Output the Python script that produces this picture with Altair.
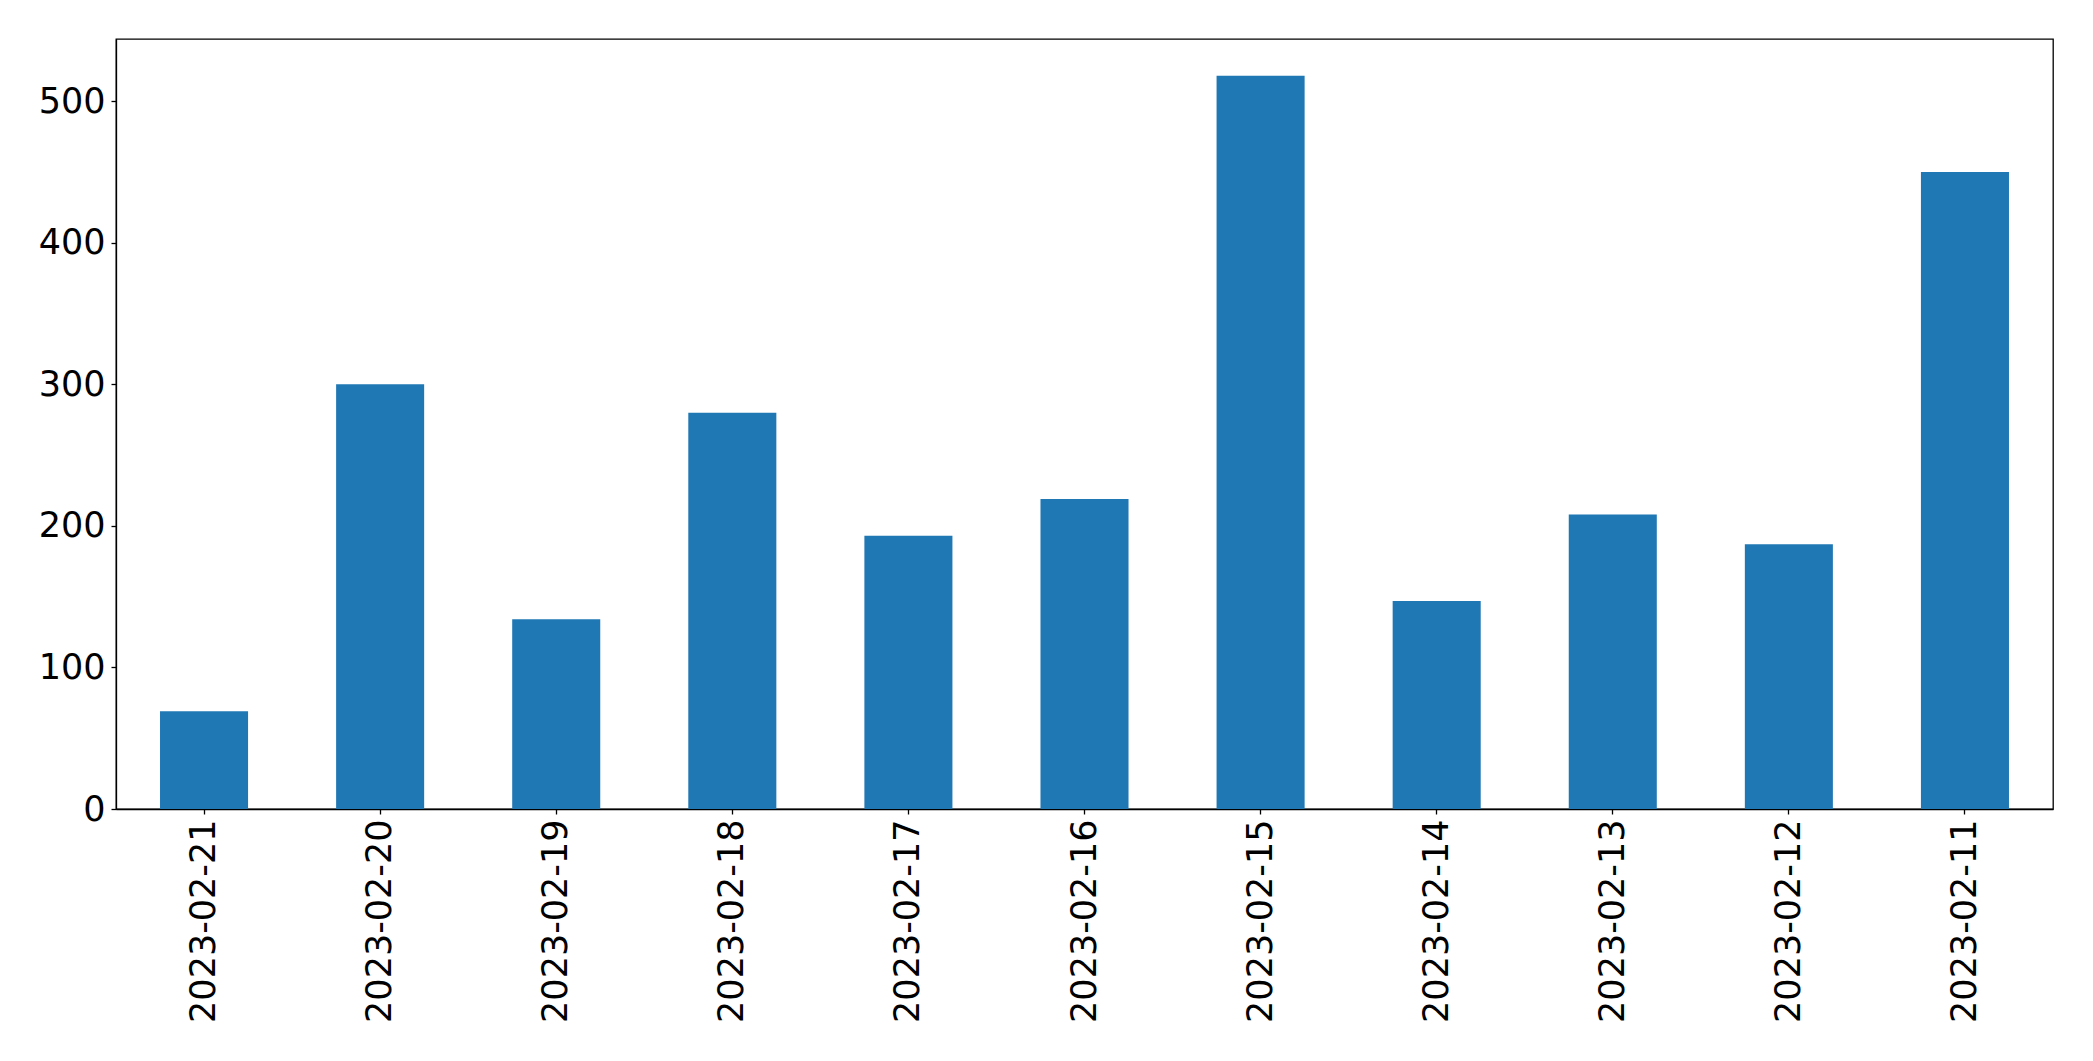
import altair as alt
import pandas as pd

dates = ["2023-02-21", "2023-02-20", "2023-02-19", "2023-02-18", "2023-02-17",
         "2023-02-16", "2023-02-15", "2023-02-14", "2023-02-13", "2023-02-12",
         "2023-02-11"]
counts = [69, 300, 134, 280, 193, 219, 518, 147, 208, 187, 450]
y_ticks = [0, 100, 200, 300, 400, 500]

df = pd.DataFrame({"date": dates, "count": counts})

chart = alt.Chart(df).mark_bar(color="#1f77b4").encode(
    x=alt.X("date:N", sort=None, title=None,
            scale=alt.Scale(paddingInner=0.5, paddingOuter=0.25),
            axis=alt.Axis(labelAngle=-90, labelFontSize=35, labelColor="black",
                          labelFont="DejaVu Sans", tickColor="black", tickSize=5,
                          tickWidth=1.3, domainColor="black", domainWidth=1.3,
                          labelPadding=5, labelLimit=0)),
    y=alt.Y("count:Q", title=None,
            scale=alt.Scale(domain=[0, 544], nice=False, zero=True),
            axis=alt.Axis(values=y_ticks, labelFontSize=35, labelColor="black",
                          labelFont="DejaVu Sans", tickColor="black", tickSize=5,
                          tickWidth=1.3, domainColor="black", domainWidth=1.3,
                          grid=False, labelPadding=6, labelLimit=0)),
).properties(
    width=1937, height=770,
    background="white",
    autosize=alt.AutoSizeParams(type="none"),
    padding={"left": 108, "top": 31, "right": 30, "bottom": 240},
).configure_view(stroke="black", strokeWidth=1.3)

chart.save("out.html", embed_options={"renderer": "svg", "actions": False})
